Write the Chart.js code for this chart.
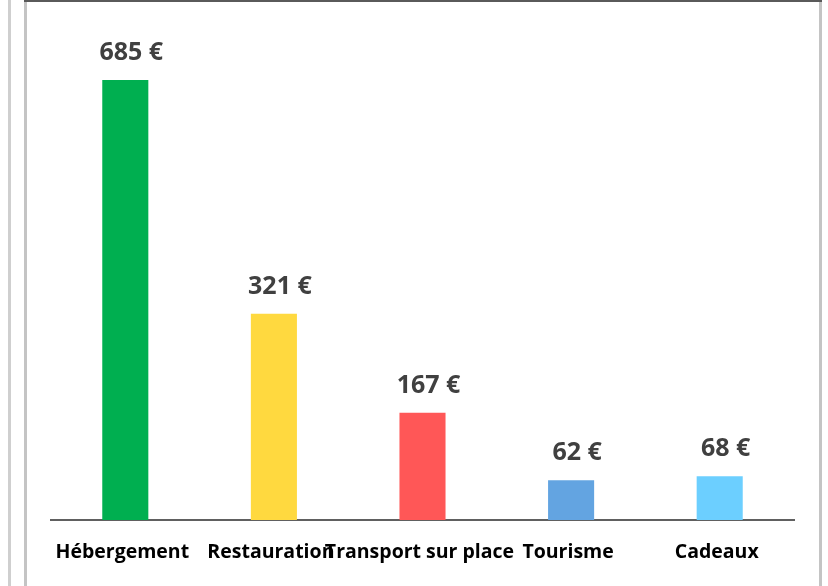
<!DOCTYPE html>
<html>
<head>
<meta charset="utf-8">
<script src="https://cdn.jsdelivr.net/npm/chart.js@4.4.0/dist/chart.umd.min.js"></script>
<style>
  body { margin: 0; background: #fff; }
  #wrap { position: relative; width: 828px; height: 586px; overflow: hidden; }
  #chart { position: absolute; left: 0; top: 0; }
  .line { position: absolute; }
</style>
</head>
<body>
<div id="wrap">
  <canvas id="chart" width="828" height="586"></canvas>
  <div class="line" style="left:8px;top:0;width:3px;height:586px;background:#cfcfcf"></div>
  <div class="line" style="left:24px;top:0;width:3px;height:586px;background:#c4c4c4"></div>
  <div class="line" style="left:24px;top:0;width:798px;height:2px;background:#5a5a5a"></div>
  <div class="line" style="left:819px;top:2px;width:3px;height:584px;background:#c4c4c4"></div>
</div>
<script>
// dépenses moyennes par poste
let categories = ["Hébergement", "Restauration", "Transport sur place", "Tourisme", "Cadeaux"];
let values = [685, 321, 167, 62, 68];
let barColors = ["#00AF50", "#FFD93F", "#FF5757", "#63A4E1", "#6CCFFF"];

// value labels above the bars
let valueLabels = {
  id: "valueLabels",
  afterDatasetsDraw(chart) {
    let ctx = chart.ctx;
    let meta = chart.getDatasetMeta(0);
    ctx.save();
    ctx.font = "bold 25px 'Open Sans'";
    ctx.fillStyle = "#404040";
    ctx.textAlign = "center";
    ctx.textBaseline = "middle";
    meta.data.forEach(function(bar, i){
      ctx.fillText(values[i] + " €", bar.x + 6, bar.y - 27);
    });
    ctx.restore();
  }
};

let ctx = document.getElementById("chart").getContext("2d");
let chart = new Chart(ctx, {
  type: "bar",
  data: {
    labels: categories,
    datasets: [{
      data: values,
      backgroundColor: barColors,
      borderWidth: 0,
      categoryPercentage: 1,
      barPercentage: 0.31
    }]
  },
  options: {
    responsive: false,
    animation: false,
    layout: { padding: { left: 51, right: 34, top: 6, bottom: 0 } },
    plugins: {
      legend: { display: false },
      tooltip: { enabled: false }
    },
    scales: {
      y: {
        display: false,
        min: 0,
        max: 800
      },
      x: {
        grid: { display: false },
        border: { display: true, color: "#606060", width: 2 },
        ticks: {
          color: "#000",
          font: { family: "'Open Sans'", size: 19.5, weight: "bold" },
          padding: 13,
          labelOffset: -3,
          autoSkip: false,
          maxRotation: 0,
          minRotation: 0
        },
        afterFit(scale) { scale.height = 66; }
      }
    }
  },
  plugins: [valueLabels]
});
</script>
</body>
</html>
